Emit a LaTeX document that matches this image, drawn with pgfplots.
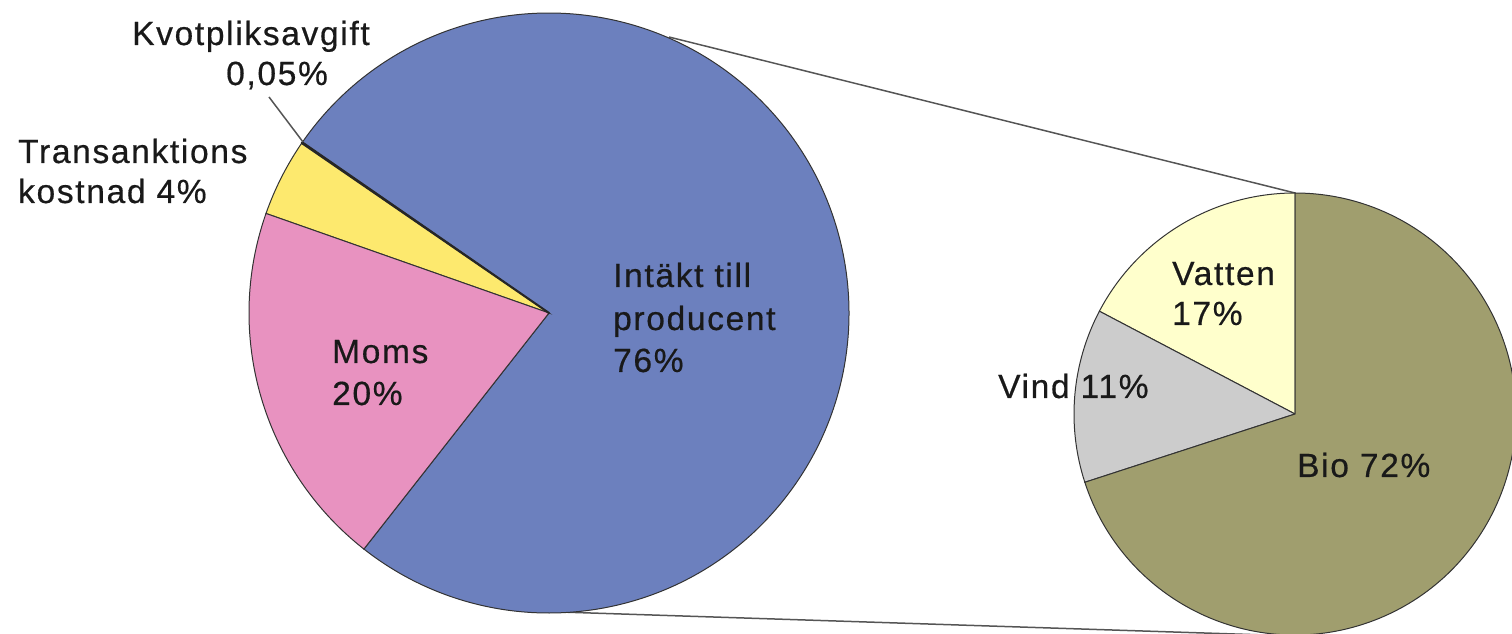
\documentclass[border=0pt]{standalone}
\usepackage{pgfplots}
\pgfplotsset{compat=1.18}
\usepackage{fontspec}
\setmainfont{Liberation Sans}[LetterSpace=5,FakeBold=0.5]
\definecolor{cBlue}{HTML}{6C80BE}
\definecolor{cPink}{HTML}{E892C0}
\definecolor{cYel}{HTML}{FDE96E}
\definecolor{cOlive}{HTML}{A09E6E}
\definecolor{cGrey}{HTML}{CCCCCC}
\definecolor{cLYel}{HTML}{FFFFCC}
\definecolor{cEdge}{HTML}{333333}
\definecolor{cLine}{HTML}{555555}
% left pie values (percent), counter-clockwise from start angle
\def\vInt{75.95}\def\vKvot{0.05}\def\vTrans{4.2}\def\vMoms{19.8}
% right pie values
\def\vVatten{17.3}\def\vVind{12.7}\def\vBio{70.0}
\begin{document}
\begin{tikzpicture}
\pgfmathsetmacro\La{231.9}
\pgfmathsetmacro\Lb{\La+3.6*\vInt}
\pgfmathsetmacro\Lc{\Lb+3.6*\vKvot}
\pgfmathsetmacro\Ld{\Lc+3.6*\vTrans}
\pgfmathsetmacro\Le{\Ld+3.6*\vMoms}
\pgfmathsetmacro\Ra{90}
\pgfmathsetmacro\Rb{\Ra+3.6*\vVatten}
\pgfmathsetmacro\Rc{\Rb+3.6*\vVind}
\pgfmathsetmacro\Rd{\Rc+3.6*\vBio}
\useasboundingbox (0,0) rectangle (1512pt,634pt);
\begin{axis}[x=1pt,y=1pt,xmin=0,xmax=1512,ymin=0,ymax=634,hide axis,
  anchor=origin,at={(0,0)},clip=false]
% connector lines
\draw[cLine,line width=1.5pt] (axis cs:669,597) -- (axis cs:1295,441);
\draw[cLine,line width=1.5pt] (axis cs:560,22) -- (axis cs:1296,-2);
% left pie
\filldraw[fill=cBlue,draw=cEdge,line width=1pt] (axis cs:549,321) -- ++(\La:300pt) arc[start angle=\La,end angle=\Lb,radius=300pt] -- cycle;
\filldraw[fill=cYel,draw=cEdge,line width=1pt] (axis cs:549,321) -- ++(\Lc:300pt) arc[start angle=\Lc,end angle=\Ld,radius=300pt] -- cycle;
\filldraw[fill=cPink,draw=cEdge,line width=1pt] (axis cs:549,321) -- ++(\Ld:300pt) arc[start angle=\Ld,end angle=\Le,radius=300pt] -- cycle;
\filldraw[fill=black,draw=black!85,line width=2pt,line join=round] (axis cs:549,321) -- ++(\Lb:300pt) arc[start angle=\Lb,end angle=\Lc,radius=300pt] -- cycle;
% right pie
\filldraw[fill=cLYel,draw=cEdge,line width=1pt] (axis cs:1295,220) -- ++(\Ra:221pt) arc[start angle=\Ra,end angle=\Rb,radius=221pt] -- cycle;
\filldraw[fill=cGrey,draw=cEdge,line width=1pt] (axis cs:1295,220) -- ++(\Rb:221pt) arc[start angle=\Rb,end angle=\Rc,radius=221pt] -- cycle;
\filldraw[fill=cOlive,draw=cEdge,line width=1pt] (axis cs:1295,220) -- ++(\Rc:221pt) arc[start angle=\Rc,end angle=\Rd,radius=221pt] -- cycle;
% leader
\draw[cLine,line width=1.5pt] (axis cs:269,537) -- (axis cs:303,492);
% labels
\tikzset{lab/.style={anchor=base west,inner sep=0pt,text=black!90,font=\fontsize{33.5}{42}\selectfont}}
\node[lab] at (axis cs:132,589) {Kvotpliksavgift};
\node[lab] at (axis cs:226,549) {0,05\%};
\node[lab] at (axis cs:18,471) {Transanktions};
\node[lab] at (axis cs:18,431) {kostnad 4\%};
\node[lab] at (axis cs:613,347) {Intäkt till};
\node[lab] at (axis cs:613,304) {producent};
\node[lab] at (axis cs:613,262) {76\%};
\node[lab] at (axis cs:332,271) {Moms};
\node[lab] at (axis cs:332,229) {20\%};
\node[lab] at (axis cs:1172,349) {Vatten};
\node[lab] at (axis cs:1172,309) {17\%};
\node[lab] at (axis cs:998,236) {Vind 11\%};
\node[lab] at (axis cs:1297,157) {Bio 72\%};
\end{axis}
\end{tikzpicture}
\end{document}
